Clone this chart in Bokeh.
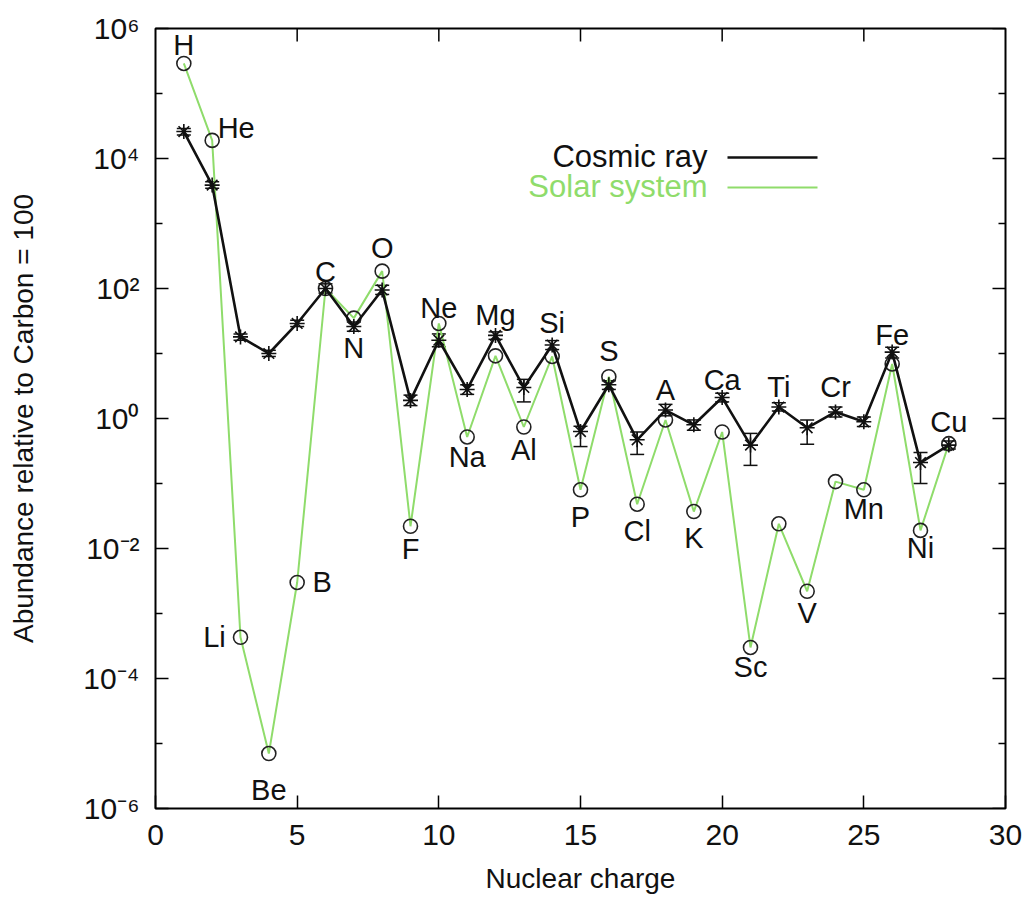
import math
from bokeh.plotting import figure
from bokeh.models import (Range1d, FixedTicker, Whisker, ColumnDataSource, TeeHead,
                          CustomJSTickFormatter)
from bokeh.embed import file_html
from bokeh.resources import INLINE
from bokeh.core.properties import value

# ---------------- data ----------------
elements = ["H", "He", "Li", "Be", "B", "C", "N", "O", "F", "Ne", "Na", "Mg", "Al", "Si",
            "P", "S", "Cl", "A", "K", "Ca", "Sc", "Ti", "V", "Cr", "Mn", "Fe", "Ni", "Cu"]
charge = list(range(1, 29))

cosmic_ray = [2.6e4, 3.9e3, 18, 10, 29, 100, 26, 95, 1.9, 16, 2.8, 19, 3.0, 13.5,
              0.63, 3.3, 0.47, 1.35, 0.8, 2.1, 0.39, 1.5, 0.72, 1.26, 0.89, 10.5, 0.21, 0.39]
cosmic_lo = [2.3e4, 3.5e3, 16, 9, 26, 85, 22, 81, 1.58, 12.7, 2.35, 16.5, 1.8, 11.5,
             0.37, 2.8, 0.28, 1.1, 0.66, 1.8, 0.19, 1.3, 0.40, 1.05, 0.75, 8.5, 0.10, 0.34]
cosmic_hi = [2.9e4, 4.4e3, 20, 11.2, 32.5, 118, 30.5, 112, 2.29, 20, 3.3, 21.5, 4.0, 15.8,
             0.76, 3.8, 0.62, 1.65, 0.95, 2.45, 0.59, 1.75, 0.95, 1.5, 1.05, 12.5, 0.30, 0.45]

solar_system = [2.9e5, 1.9e4, 4.3e-4, 7e-6, 3e-3, 100, 35, 185, 0.022, 29, 0.52, 9.2, 0.74, 9.0,
                0.08, 4.4, 0.048, 0.95, 0.037, 0.62, 3.0e-4, 0.024, 2.2e-3, 0.107, 0.08, 6.9, 0.019, 0.41]

x_ticks = [0, 5, 10, 15, 20, 25, 30]
y_major = [1e-6, 1e-4, 1e-2, 1e0, 1e2, 1e4, 1e6]
y_minor = [1e-5, 1e-3, 1e-1, 1e1, 1e3, 1e5]

series_names = ["Cosmic ray", "Solar system"]

# ---------------- label layout (anchor series, pixel offsets) ----------------
label_layout = [
    ("ss", 0, -18), ("ss", 24, -12), ("ss", -26, 0), ("ss", 0, 36), ("ss", 25, 0),
    ("cr", 0, -17), ("cr", 0, 21), ("ss", 0, -23), ("ss", 0, 23), ("ss", 0, -15),
    ("ss", 0, 20), ("cr", 0, -20), ("ss", 0, 23), ("cr", 0, -22), ("ss", 0, 27),
    ("ss", 0, -26), ("ss", 0, 27), ("cr", 0, -20), ("ss", 0, 26), ("cr", 0, -18),
    ("ss", 0, 20), ("cr", 0, -20), ("ss", 0, 22), ("cr", 0, -25), ("ss", 0, 19),
    ("cr", 0, -17), ("ss", 0, 18), ("cr", 0, -23),
]

FONT = "Liberation Sans"
GREEN = "#8fdc6b"
BLACK = "#111111"

p = figure(width=1025, height=905, output_backend="svg", toolbar_location=None,
           x_range=Range1d(0, 30), y_range=Range1d(1e-6, 1e6), y_axis_type="log",
           min_border_left=155, min_border_right=20, min_border_top=28, min_border_bottom=97)
p.xgrid.visible = False
p.ygrid.visible = False
p.outline_line_color = "black"
p.outline_line_width = 2
p.background_fill_color = "white"
p.border_fill_color = "white"

sup = CustomJSTickFormatter(code="""
const m = {'-':'\u207b','0':'\u2070','1':'\u00b9','2':'\u00b2','3':'\u00b3','4':'\u2074',
           '5':'\u2075','6':'\u2076','7':'\u2077','8':'\u2078','9':'\u2079'};
const e = Math.round(Math.log10(tick));
return '10' + String(e).split('').map(c => m[c]).join('');
""")

def style_axis(ax):
    ax.axis_line_color = None
    ax.major_tick_in = 13
    ax.major_tick_out = 0
    ax.major_tick_line_color = "black"
    ax.major_tick_line_width = 1.5
    ax.minor_tick_in = 7
    ax.minor_tick_out = 0
    ax.minor_tick_line_width = 1.5
    ax.major_label_text_font = FONT
    ax.major_label_text_color = "#111111"
    ax.axis_label_text_font = FONT
    ax.axis_label_text_font_style = "normal"
    ax.axis_label_text_color = "#111111"

# bottom axis
xa = p.xaxis[0]
xa.ticker = FixedTicker(ticks=x_ticks)
style_axis(xa)
xa.minor_tick_line_color = None
xa.major_label_text_font_size = "30px"
xa.major_label_standoff = 16
xa.axis_label = "Nuclear charge"
xa.axis_label_text_font_size = "28px"
xa.axis_label_standoff = 15

# left axis
ya = p.yaxis[0]
ya.ticker = FixedTicker(ticks=y_major, minor_ticks=y_minor)
ya.formatter = sup
style_axis(ya)
ya.minor_tick_line_color = "black"
ya.major_label_text_font_size = "30px"
ya.major_label_standoff = 16
ya.axis_label = "Abundance relative to Carbon = 100"
ya.axis_label_text_font_size = "28px"
ya.axis_label_standoff = 41

# mirrored ticks on top and right (drawn as short inward rays)
top_x = x_ticks[1:-1]
p.ray(x=top_x, y=[y_major[-1]] * len(top_x), length=13, length_units="screen",
      angle=-math.pi / 2, line_color="black", line_width=1.5)
p.ray(x=[x_ticks[-1]] * len(y_major), y=y_major, length=13, length_units="screen",
      angle=math.pi, line_color="black", line_width=1.5)
p.ray(x=[x_ticks[-1]] * len(y_minor), y=y_minor, length=7, length_units="screen",
      angle=math.pi, line_color="black", line_width=1.5)

# ---------------- series ----------------
src = ColumnDataSource(dict(z=charge, cr=cosmic_ray, lo=cosmic_lo, hi=cosmic_hi,
                            ss=solar_system, el=elements))

p.line("z", "ss", source=src, line_color=GREEN, line_width=2)
p.scatter("z", "ss", source=src, marker="circle", size=14, fill_alpha=0,
          line_color="#222222", line_width=1.6)
p.line("z", "cr", source=src, line_color=BLACK, line_width=2.6)
p.add_layout(Whisker(source=src, base="z", upper="hi", lower="lo", dimension="height",
                     line_color=BLACK, line_width=1.5,
                     upper_head=TeeHead(size=14, line_color=BLACK, line_width=1.5),
                     lower_head=TeeHead(size=14, line_color=BLACK, line_width=1.5)))
p.scatter("z", "cr", source=src, marker="asterisk", size=15, line_color=BLACK, line_width=1.6)

# element labels
lab_y = [cosmic_ray[i] if label_layout[i][0] == "cr" else solar_system[i] for i in range(len(elements))]
lab_src = ColumnDataSource(dict(x=charge, y=lab_y, t=elements,
                                dx=[l[1] for l in label_layout], dy=[l[2] for l in label_layout]))
p.text("x", "y", text="t", source=lab_src, x_offset="dx", y_offset="dy",
       text_font=value(FONT), text_font_size="29px", text_color="#111111",
       text_align="center", text_baseline="middle")

# ---------------- key (text left, sample right, like gnuplot) ----------------
def px_to_x(px):
    return (px - 155) * 30.0 / 850.0

def py_to_y(py):
    return 10 ** (6 - (py - 28) * 12.0 / 780.0)

key_rows = [(157, BLACK, 2.6), (187, GREEN, 2)]
for (py, col, lw), name in zip(key_rows, series_names):
    p.text(x=[px_to_x(707)], y=[py_to_y(py - 1)], text=[name], text_font=value(FONT),
           text_font_size="31px", text_color=col, text_align="right", text_baseline="middle")
    p.line(x=[px_to_x(727), px_to_x(817)], y=[py_to_y(py), py_to_y(py)],
           line_color=col, line_width=lw)

open("out.html", "w").write(file_html(p, INLINE))
